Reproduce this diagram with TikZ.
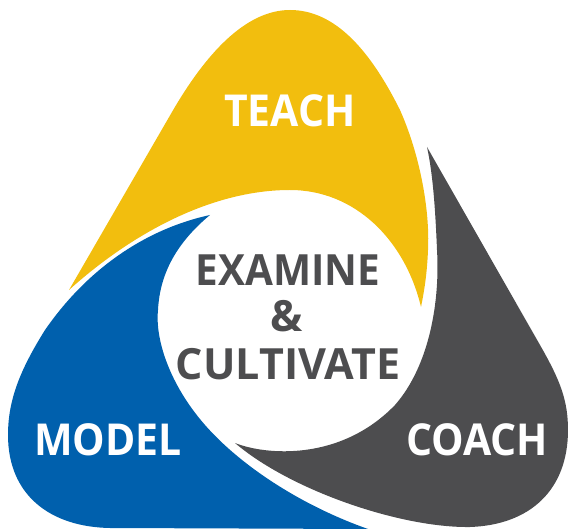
\documentclass[tikz,border=0pt]{standalone}
\usepackage{fontspec}
\setmainfont{Open Sans}
\definecolor{teachcolour}{HTML}{F2BE0E}
\definecolor{modelcolour}{HTML}{0060AD}
\definecolor{coachcolour}{HTML}{4D4D4F}
\tikzset{
  petallabel/.style={anchor=base,text=white,xscale=0.93,font=\fontsize{44}{47}\selectfont\bfseries},
  centrelabel/.style={anchor=base,text=coachcolour,font=\fontsize{43}{47}\selectfont\bfseries}
}

\begin{document}
\begin{tikzpicture}[x=1pt,y=-1pt]
\useasboundingbox (0,0) rectangle (568,529);
% Teach petal
\fill[teachcolour] (69,290) -- (172,112) .. controls (205,55) and (245,10) .. (290,10)
  .. controls (335,10) and (370,50) .. (400,110) .. controls (420,155) and (430,210) .. (428,250)
  .. controls (427,275) and (424,292) .. (421,307)
  .. controls (405,240) and (355,190) .. (290,190) .. controls (210,190) and (130,235) .. (69,290) -- cycle;
% Model petal
\fill[modelcolour] (210,215) .. controls (150,228) and (90,265) .. (45,330)
  .. controls (20,370) and (8,400) .. (8,435) .. controls (8,495) and (50,527) .. (110,528)
  -- (368,529) .. controls (300,505) and (240,465) .. (205,425)
  .. controls (170,385) and (155,340) .. (158,310) .. controls (160,270) and (180,240) .. (210,215) -- cycle;
% Coach petal
\fill[coachcolour] (427,147) -- (540,345) .. controls (560,380) and (568,400) .. (568,430)
  .. controls (568,490) and (530,525) .. (470,527) .. controls (400,528) and (290,490) .. (235,443)
  .. controls (265,455) and (340,462) .. (395,405) .. controls (430,365) and (440,300) .. (437,250)
  .. controls (435,200) and (432,170) .. (427,147) -- cycle;

% Labels
\node[petallabel] (teach) at (290,127) {TEACH};
\node[petallabel] (model) at (108,455) {MODEL};
\node[petallabel] (coach) at (477,455) {COACH};
\node[centrelabel,xscale=0.94] (examine) at (288,286) {EXAMINE};
\node[centrelabel] (amp) at (287,332) {\&};
\node[centrelabel] (cultivate) at (288,380) {CULTIVATE};
\end{tikzpicture}
\end{document}
